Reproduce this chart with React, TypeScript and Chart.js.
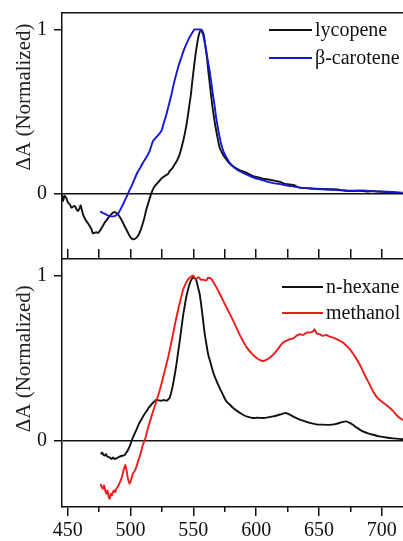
import React, { useEffect, useRef } from 'react';
import { Chart, registerables } from 'chart.js';

Chart.register(...registerables);

// ---------- axis ranges / ticks ----------
const X_MIN = 445.5;
const X_MAX = 720;
const Y_MIN = -0.4;
const Y_MAX = 1.1;
const yTickValues = [0, 1];
const xLabelTicks = [450, 500, 550, 600, 650, 700];
const xMinorTicks = [475, 525, 575, 625, 675];
const xAllTicks = [450, 475, 500, 525, 550, 575, 600, 625, 650, 675, 700];

const Y_TITLE = 'ΔA (Normalized)';

// ---------- top panel: lycopene ----------
const lycopeneX = [
  445.5, 446.3, 447.6, 449, 450.3, 452, 453, 454.5, 455.6, 457, 458.2, 459.5, 460.3, 461.3, 462.2, 463.5,
  464.9, 466, 467.5, 469, 470.1, 471.5, 472.8, 474, 475.5, 477.5, 479.4, 481.5, 483.4, 485, 486.8, 488.5,
  490, 492, 494, 496, 498, 500, 502, 504, 505.9, 507.5, 509.1, 511, 512.6, 514.5, 516.6, 518.5,
  520.6, 522.5, 524.5, 527, 529.8, 531.1, 533, 535.1, 537, 539.1, 541, 543.1, 545, 546.5, 548,
  549.2, 550.5, 551.8, 553.2, 554.5, 556.3, 558.2, 559.5, 560.8, 562, 563.5, 565, 566.9, 569,
  570.9, 573, 574.9, 578, 581.5, 586, 592.1, 597.5, 602.7, 606, 610, 613, 616, 619, 622, 626.6,
  630, 634.6, 640, 648, 655, 661, 668, 674, 681, 687.6, 694, 700.8, 708, 716.5,
];
const lycopeneY = [
  0.0, -0.045, -0.015, -0.03, -0.057, -0.07, -0.087, -0.08, -0.077, -0.095, -0.108, -0.09, -0.073, -0.1, -0.128, -0.15,
  -0.169, -0.18, -0.199, -0.22, -0.244, -0.24, -0.236, -0.242, -0.23, -0.205, -0.179, -0.158, -0.138, -0.125, -0.114, -0.118,
  -0.128, -0.15, -0.179, -0.21, -0.24, -0.268, -0.28, -0.275, -0.26, -0.235, -0.2, -0.15, -0.098, -0.05, 0.0, 0.035,
  0.055, 0.072, 0.09, 0.105, 0.118, 0.136, 0.15, 0.177, 0.2, 0.238, 0.29, 0.36, 0.44, 0.52, 0.6,
  0.685, 0.77, 0.85, 0.92, 0.97, 1.0, 0.97, 0.9, 0.83, 0.74, 0.64, 0.54, 0.44, 0.35,
  0.28, 0.245, 0.22, 0.19, 0.166, 0.145, 0.126, 0.105, 0.096, 0.088, 0.085, 0.08, 0.075, 0.07, 0.06, 0.055,
  0.05, 0.035, 0.032, 0.028, 0.027, 0.025, 0.02, 0.014, 0.016, 0.012, 0.014, 0.01, 0.006, 0.0,
];

// ---------- top panel: beta-carotene ----------
const caroteneX = [
  476, 477.5, 479.4, 481.5, 483.4, 485.5, 487.4, 489, 490.6, 492.7, 494.5, 495.9, 498.5, 500.5, 502, 505.4,
  508, 510.5, 513, 515.2, 517.9, 520.6, 522.5, 524.5, 526.5, 528.5, 530.5, 532.5, 534.5, 536.5, 538.5,
  540.5, 542.5, 544.4, 546.5, 548.4, 550, 551, 553, 555, 556.5, 557.6, 559, 560.3, 561.5, 562.9, 564.3,
  565.6, 567, 568.2, 570, 572.2, 574, 576.2, 579, 582.8, 587, 592.1, 597, 602.7, 608, 613.6, 620, 627,
  634.8, 645, 655, 665, 675, 685, 695, 705, 716.5,
];
const caroteneY = [
  -0.108, -0.118, -0.124, -0.132, -0.138, -0.14, -0.138, -0.13, -0.118, -0.087, -0.06, -0.037, 0.008, 0.04, 0.065, 0.126,
  0.16, 0.195, 0.225, 0.258, 0.319, 0.343, 0.36, 0.38, 0.43, 0.48, 0.54, 0.6, 0.67, 0.73, 0.785,
  0.83, 0.875, 0.91, 0.945, 0.97, 0.99, 1.0, 1.0, 1.0, 0.99, 0.97, 0.925, 0.87, 0.81, 0.75, 0.675,
  0.6, 0.53, 0.46, 0.38, 0.3, 0.255, 0.22, 0.185, 0.157, 0.135, 0.116, 0.1, 0.085, 0.073, 0.063, 0.055, 0.045,
  0.035, 0.028, 0.024, 0.02, 0.016, 0.018, 0.012, 0.01, 0.005,
];

// ---------- bottom panel: n-hexane ----------
const hexaneX = [
  476.3, 477.5, 478.5, 479.4, 480.5, 481.5, 483.4, 485, 486, 487.4, 489, 491.4, 493.5, 495.3, 496.8, 498,
  499.5, 500.7, 502.5, 504.7, 506.5, 508.6, 510.5, 512.6, 514.5, 516.6, 518.5, 520.6, 522.5, 524.5, 526.5,
  528.5, 530, 531.1, 532.5, 533.8, 535.2, 536.5, 537.8, 539.1, 540.4, 541.7, 543, 544.4, 545.8, 547.1,
  548.4, 549.7, 551, 552.4, 553.7, 555, 556.3, 557.6, 559, 560.3, 561.6, 563, 565.6, 568, 570.9, 573.5,
  576.2, 579, 581.5, 585, 589.5, 593.5, 597.5, 601, 605.4, 609.5, 613.4, 617, 620, 622.7, 625, 629.3,
  633, 637.3, 642, 647.9, 653, 658.4, 662, 666.4, 669, 671.7, 674, 676.9, 680, 684.9, 689, 692.9,
  698, 703.5, 709, 714.1, 719,
];
const hexaneY = [
  -0.081, -0.07, -0.085, -0.089, -0.08, -0.095, -0.1, -0.11, -0.1, -0.11, -0.105, -0.095, -0.09, -0.085, -0.07, -0.055,
  -0.03, -0.004, 0.03, 0.067, 0.1, 0.128, 0.155, 0.178, 0.2, 0.219, 0.235, 0.25, 0.245, 0.243, 0.247,
  0.243, 0.25, 0.26, 0.295, 0.34, 0.4, 0.46, 0.53, 0.6, 0.675, 0.75, 0.81, 0.87, 0.915, 0.95,
  0.975, 0.986, 0.985, 0.97, 0.93, 0.89, 0.82, 0.74, 0.65, 0.59, 0.53, 0.49, 0.42, 0.37, 0.32, 0.28,
  0.24, 0.22, 0.2, 0.18, 0.158, 0.145, 0.138, 0.14, 0.138, 0.142, 0.148, 0.155, 0.162, 0.168, 0.165, 0.148,
  0.135, 0.122, 0.11, 0.1, 0.098, 0.097, 0.1, 0.108, 0.115, 0.118, 0.11, 0.097, 0.08, 0.057, 0.045, 0.037,
  0.027, 0.02, 0.015, 0.012, 0.008,
];

// ---------- bottom panel: methanol ----------
const methanolX = [
  476.3, 477.2, 478.1, 479, 479.9, 480.8, 481.7, 482.6, 483.4, 484.3, 485.2, 486, 486.9, 487.8, 488.7, 489.6,
  490.5, 491.6, 492.7, 493.8, 494.8, 495.9, 496.9, 498, 499.3, 500.6, 502, 503.5, 505, 505.9, 507.5, 509.9,
  512, 513.9, 516, 517.9, 520, 521.8, 523.8, 525.8, 527.8, 529.8, 531.8, 533.8, 535.8, 537.7, 539.7, 541.7,
  543.5, 545.2, 546.8, 548.4, 550, 551, 552.4, 554, 556.3, 558, 560.3, 561.6, 563, 564.3, 566, 568.3,
  571, 573.6, 576.2, 578.9, 581.5, 584.2, 587, 589.5, 592, 594.8, 597.5, 600.1, 602.7, 605.4, 608, 610.7,
  613.4, 616, 618.7, 621.4, 624, 626.6, 629.3, 632, 634.6, 637.3, 640, 642.5, 645, 646.5, 648, 650.5,
  653.1, 656, 658.5, 661.1, 664, 666.5, 669, 672.5, 675.7, 679, 682.3, 685, 687.6, 690.3, 692.9, 696,
  699.6, 703, 706.2, 709, 711.5, 714, 716.5, 719,
];
const methanolY = [
  -0.26, -0.28, -0.29, -0.27, -0.3, -0.32, -0.3, -0.34, -0.35, -0.32, -0.33, -0.31, -0.3, -0.31, -0.29, -0.28,
  -0.27, -0.25, -0.23, -0.2, -0.17, -0.146, -0.18, -0.23, -0.26, -0.23, -0.197, -0.18, -0.15, -0.126, -0.09, -0.024,
  0.02, 0.077, 0.13, 0.178, 0.225, 0.27, 0.32, 0.38, 0.44, 0.5, 0.57, 0.645, 0.72, 0.787, 0.85, 0.91,
  0.945, 0.97, 0.985, 0.994, 1.0, 0.985, 0.98, 0.99, 0.974, 0.975, 0.97, 0.986, 0.985, 0.98, 0.96, 0.93,
  0.89, 0.85, 0.81, 0.77, 0.73, 0.686, 0.64, 0.604, 0.57, 0.543, 0.52, 0.503, 0.49, 0.483, 0.49, 0.503,
  0.52, 0.543, 0.57, 0.595, 0.605, 0.615, 0.62, 0.635, 0.645, 0.64, 0.655, 0.655, 0.66, 0.675, 0.65, 0.645,
  0.635, 0.64, 0.63, 0.625, 0.615, 0.605, 0.595, 0.57, 0.543, 0.505, 0.463, 0.42, 0.38, 0.34, 0.3, 0.265,
  0.24, 0.22, 0.2, 0.18, 0.158, 0.14, 0.128, 0.12,
];

// ---------- styling ----------
const SERIF = '"Liberation Serif", "Times New Roman", serif';
const INK = '#111111';
const BLACK_LINE = '#111111';
const BLUE_LINE = '#1717d6';
const RED_LINE = '#ee1b1b';
const CANVAS_W = 430;
const CANVAS_H = 541;

const toPoints = (xs: number[], ys: number[]) => xs.map((x, i) => ({ x, y: ys[i] }));

const noScalePadding = (s: any) => {
  s.paddingTop = 0;
  s.paddingBottom = 0;
  s.paddingLeft = 0;
  s.paddingRight = 0;
};

const panelLegend = {
  id: 'panelLegend',
  afterDatasetsDraw(chart: any, _args: any, opts: any) {
    const { ctx } = chart;
    ctx.save();
    chart.data.datasets.forEach((ds: any, i: number) => {
      const y = opts.y + i * opts.rowH;
      ctx.strokeStyle = ds.borderColor;
      ctx.lineWidth = 2;
      ctx.beginPath();
      ctx.moveTo(opts.x, y);
      ctx.lineTo(opts.x + opts.lineLen, y);
      ctx.stroke();
      ctx.fillStyle = INK;
      ctx.font = `20px ${SERIF}`;
      ctx.textAlign = 'left';
      ctx.textBaseline = 'middle';
      ctx.fillText(ds.label, opts.x + opts.lineLen + opts.gap, y + 1);
    });
    ctx.restore();
  },
};

const yScale = (title: string) => ({
  type: 'linear',
  position: 'left',
  min: Y_MIN,
  max: Y_MAX,
  afterBuildTicks: (s: any) => {
    s.ticks = yTickValues.map((v) => ({ value: v }));
  },
  afterFit: (s: any) => {
    s.width = 62;
    noScalePadding(s);
  },
  ticks: {
    font: { family: SERIF, size: 20 },
    color: INK,
    padding: 7,
    callback: (v: any) => String(v),
  },
  grid: {
    drawOnChartArea: true,
    color: (c: any) => (c.tick && c.tick.value === 0 ? INK : 'rgba(0,0,0,0)'),
    tickColor: INK,
    lineWidth: 1.5,
    tickLength: 8,
  },
  border: { display: true, color: INK, width: 1.5 },
  title: {
    display: true,
    text: title,
    align: 'end',
    color: '#222',
    font: { family: SERIF, size: 21 },
    padding: { top: 12, bottom: 0 },
  },
});

const lineDs = (label: string, xs: number[], ys: number[], color: string, order: number) => ({
  label,
  data: toPoints(xs, ys),
  borderColor: color,
  backgroundColor: color,
  borderWidth: 1.9,
  pointRadius: 0,
  tension: 0.2,
  fill: false,
  order,
});

function topConfig(): any {
  return {
    type: 'line',
    data: {
      datasets: [
        lineDs('lycopene', lycopeneX, lycopeneY, BLACK_LINE, 1),
        lineDs('β-carotene', caroteneX, caroteneY, BLUE_LINE, 0),
      ],
    },
    options: {
      responsive: false,
      animation: false,
      devicePixelRatio: 1,
      layout: { padding: { left: 0, top: 13, right: CANVAS_W - 407, bottom: CANVAS_H - 259 } },
      plugins: {
        legend: { display: false },
        tooltip: { enabled: false },
        panelLegend: { x: 269, y: 30, lineLen: 43, gap: 3, rowH: 28 },
      },
      scales: {
        x: { type: 'linear', min: X_MIN, max: X_MAX, display: false },
        xTop: {
          type: 'linear',
          position: 'top',
          min: X_MIN,
          max: X_MAX,
          afterFit: (s: any) => {
            s.height = 0;
            noScalePadding(s);
          },
          ticks: { display: false },
          grid: { drawOnChartArea: false, drawTicks: false },
          border: { display: true, color: INK, width: 1.5 },
        },
        y: yScale(Y_TITLE + '  '),
      },
    },
    plugins: [panelLegend],
  };
}

function bottomConfig(): any {
  return {
    type: 'line',
    data: {
      datasets: [
        lineDs('n-hexane', hexaneX, hexaneY, BLACK_LINE, 1),
        lineDs('methanol', methanolX, methanolY, RED_LINE, 0),
      ],
    },
    options: {
      responsive: false,
      animation: false,
      devicePixelRatio: 1,
      layout: { padding: { left: 0, top: 249, right: CANVAS_W - 407, bottom: 0 } },
      plugins: {
        legend: { display: false },
        tooltip: { enabled: false },
        panelLegend: { x: 282, y: 287, lineLen: 41, gap: 3, rowH: 26 },
      },
      scales: {
        x: {
          type: 'linear',
          position: 'bottom',
          weight: 1,
          min: X_MIN,
          max: X_MAX,
          afterBuildTicks: (s: any) => {
            s.ticks = xLabelTicks.map((v) => ({ value: v }));
          },
          afterFit: (s: any) => {
            s.height = 34;
            noScalePadding(s);
          },
          ticks: {
            font: { family: SERIF, size: 20 },
            color: INK,
            padding: 3,
            maxRotation: 0,
            autoSkip: false,
            callback: (v: any) => String(v),
          },
          grid: { drawOnChartArea: false, tickColor: INK, lineWidth: 1.5, tickLength: 9 },
          border: { display: true, color: INK, width: 1.5 },
        },
        xMinor: {
          type: 'linear',
          position: 'bottom',
          weight: 0,
          min: X_MIN,
          max: X_MAX,
          afterBuildTicks: (s: any) => {
            s.ticks = xMinorTicks.map((v) => ({ value: v }));
          },
          afterFit: (s: any) => {
            s.height = 0;
            noScalePadding(s);
          },
          ticks: { display: false },
          grid: { drawOnChartArea: false, tickColor: INK, lineWidth: 1.5, tickLength: 5 },
          border: { display: false },
        },
        xTop: {
          type: 'linear',
          position: 'top',
          min: X_MIN,
          max: X_MAX,
          afterBuildTicks: (s: any) => {
            s.ticks = xAllTicks.map((v) => ({ value: v }));
          },
          afterFit: (s: any) => {
            s.height = 10;
            noScalePadding(s);
          },
          ticks: { display: false },
          grid: { drawOnChartArea: false, tickColor: INK, lineWidth: 1.5, tickLength: 10 },
          border: { display: true, color: INK, width: 1.5 },
        },
        y: yScale(Y_TITLE + '     '),
      },
    },
    plugins: [panelLegend],
  };
}

export default function App() {
  const topRef = useRef<HTMLCanvasElement>(null);
  const botRef = useRef<HTMLCanvasElement>(null);

  useEffect(() => {
    const top = new Chart(topRef.current as HTMLCanvasElement, topConfig());
    const bot = new Chart(botRef.current as HTMLCanvasElement, bottomConfig());
    return () => {
      top.destroy();
      bot.destroy();
    };
  }, []);

  return (
    <div
      style={{
        position: 'fixed',
        left: 0,
        top: 0,
        width: 403,
        height: 541,
        overflow: 'hidden',
        background: '#ffffff',
      }}
    >
      <canvas
        ref={topRef}
        width={CANVAS_W}
        height={CANVAS_H}
        style={{ position: 'absolute', left: 0, top: 0, width: CANVAS_W, height: CANVAS_H }}
      />
      <canvas
        ref={botRef}
        width={CANVAS_W}
        height={CANVAS_H}
        style={{ position: 'absolute', left: 0, top: 0, width: CANVAS_W, height: CANVAS_H }}
      />
    </div>
  );
}
